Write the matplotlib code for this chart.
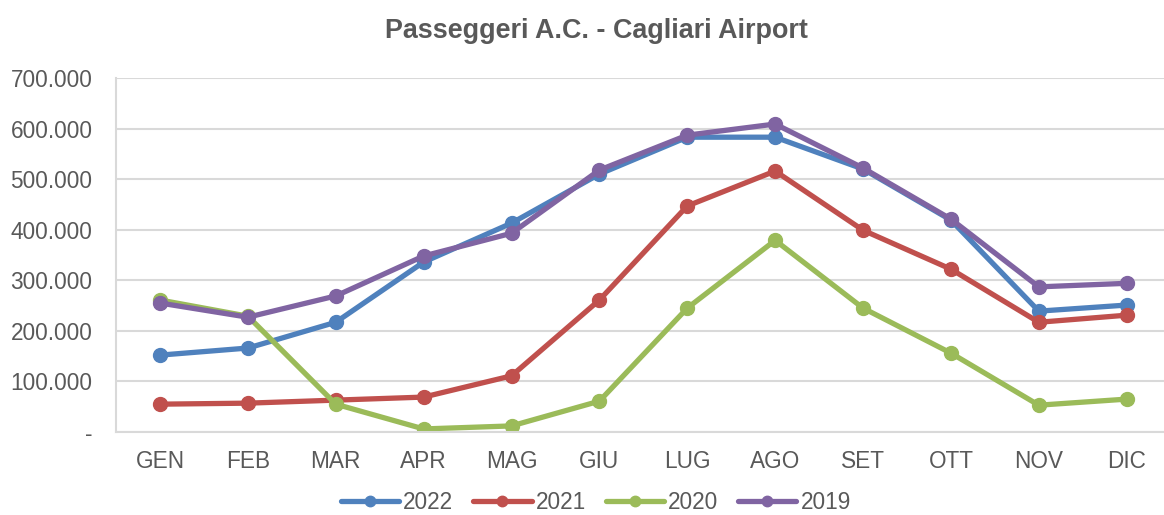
import matplotlib.pyplot as plt
from matplotlib.ticker import FuncFormatter

plt.rcParams['font.family'] = ['Liberation Sans', 'DejaVu Sans']

mesi = ['GEN', 'FEB', 'MAR', 'APR', 'MAG', 'GIU', 'LUG', 'AGO', 'SET', 'OTT', 'NOV', 'DIC']
pax_2022 = [152000, 166000, 217000, 336000, 413000, 510000, 583000, 583000, 520000, 419000, 239000, 251000]
pax_2021 = [55000, 57000, 63000, 69000, 111000, 261000, 447000, 516000, 399000, 322000, 217000, 231000]
pax_2020 = [261000, 229000, 55000, 6000, 12000, 61000, 245000, 379000, 245000, 156000, 53000, 65000]
pax_2019 = [255000, 227000, 269000, 348000, 393000, 518000, 587000, 609000, 522000, 421000, 287000, 294000]

serie = [('2022', pax_2022, '#4F81BD'),
         ('2021', pax_2021, '#C0504D'),
         ('2020', pax_2020, '#9BBB59'),
         ('2019', pax_2019, '#8064A2')]

fig = plt.figure(figsize=(11.64, 5.15), dpi=100)
ax = fig.add_axes([0.0997, 0.1612, 0.906, 0.6873])

x = range(len(mesi))
for nome, vals, col in serie:
    ax.plot(x, vals, color=col, lw=3.8, marker='o', ms=10, label=nome,
            solid_capstyle='round')

def fmt(v, pos):
    if v == 0:
        return '-'
    return f'{int(v):,}'.replace(',', '.')

ax.set_ylim(0, 700000)
ax.set_xlim(-0.5, 11.5)
ax.set_yticks(range(0, 700001, 100000))
ax.yaxis.set_major_formatter(FuncFormatter(fmt))
ax.set_xticks(list(x))
ax.set_xticklabels(mesi)
ax.tick_params(length=0, labelsize=16.3, colors='#595959')
ax.tick_params(axis='x', pad=13)
ax.tick_params(axis='y', pad=17)
ax.grid(axis='y', color='#D9D9D9', lw=1.5)
ax.set_axisbelow(True)
for s in ['top', 'right']:
    ax.spines[s].set_visible(False)
for s in ['left', 'bottom']:
    ax.spines[s].set_color('#D9D9D9')
    ax.spines[s].set_linewidth(1.5)

fig.text(0.512, 0.94, 'Passeggeri A.C. - Cagliari Airport', ha='center', va='center',
         fontsize=19.4, fontweight='bold', color='#595959')

leg = fig.legend(loc='center', bbox_to_anchor=(0.512, 0.024), ncol=4, frameon=False,
                 fontsize=16.3, handlelength=2.57, columnspacing=0.88, handletextpad=0.18,
                 markerscale=0.75, borderpad=0.1)
for t in leg.get_texts():
    t.set_color('#595959')

fig.savefig('out.png', dpi=100)
